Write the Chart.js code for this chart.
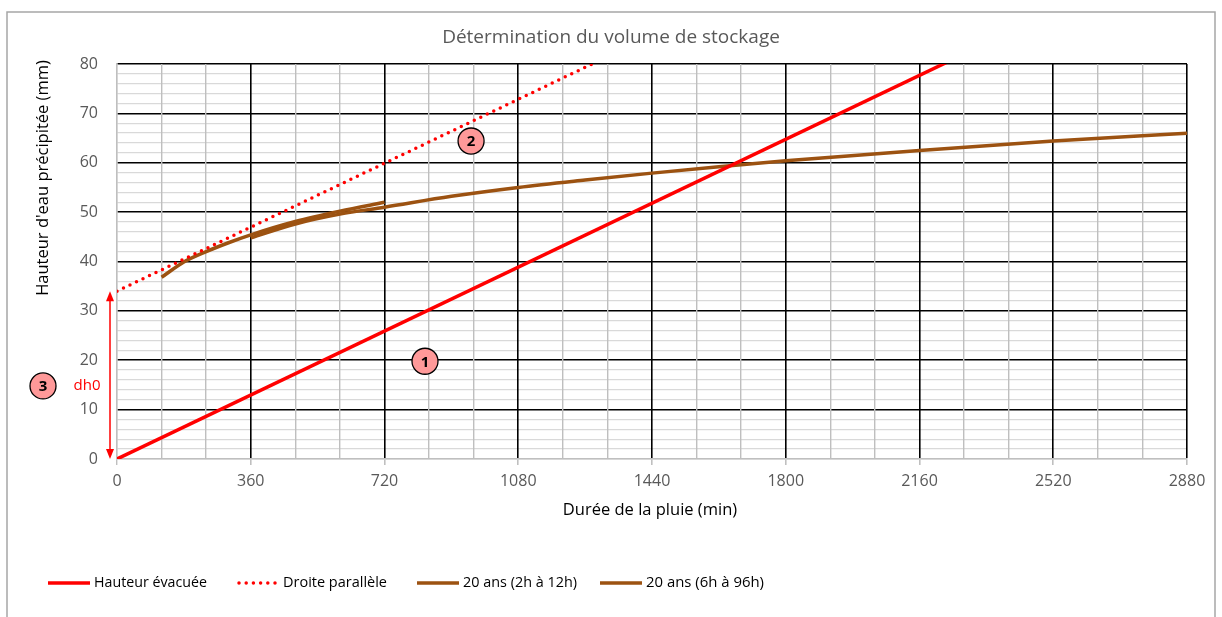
<!DOCTYPE html>
<html>
<head>
<meta charset="utf-8">
<script src="https://cdn.jsdelivr.net/npm/chart.js@4.4.1/dist/chart.umd.min.js"></script>
<style>
  body { margin: 0; background: #fff; }
  #wrap { width: 1222px; height: 617px; }
</style>
</head>
<body>
<div id="wrap"><canvas id="stockageChart" width="1222" height="617"></canvas></div>
<script>
// valeurs
var evacX = [0, 2880];
var evacY = [0, 103.6];
var paraX = [0, 2880];
var paraY = [34, 137.6];
var court1X = [120, 180, 240, 300, 360, 480, 600, 720];
var court1Y = [36.8, 39.9, 42.0, 43.8, 45.4, 48.1, 50.2, 52.0];
var long2X = [360, 480, 600, 720, 900, 1080, 1260, 1440, 1620, 1800, 2160, 2520, 2880];
var long2Y = [44.8, 47.6, 49.6, 51.0, 53.2, 55.0, 56.5, 57.9, 59.2, 60.4, 62.5, 64.4, 66.0];
var dh0 = 34;
var seriesNames = ['Hauteur évacuée', 'Droite parallèle', '20 ans (2h à 12h)', '20 ans (6h à 96h)'];
var xMajorStep = 360;
var yMajorStep = 10;

function toPoints(xs, ys) {
    return xs.map(function (x, i) { return { x: x, y: ys[i] }; });
}

var FONT = '"Open Sans", "Noto Sans", sans-serif';
var RED = '#FF0000';
var BROWN = '#9C5211';

var decorPlugin = {
    id: 'decor',
    afterDraw: function (chart) {
        var ctx = chart.ctx;
        var xs = chart.scales.x, ys = chart.scales.y;
        var area = chart.chartArea;
        ctx.save();

        // cadre
        ctx.strokeStyle = '#A6A6A6';
        ctx.lineWidth = 1.5;
        ctx.strokeRect(7, 12, 1208, 700);

        // titre
        ctx.fillStyle = '#595959';
        ctx.font = '19px ' + FONT;
        ctx.textAlign = 'center';
        ctx.textBaseline = 'middle';
        ctx.fillText('Détermination du volume de stockage', 611, 38);

        // titres des axes
        ctx.fillStyle = '#000';
        ctx.font = '16.5px ' + FONT;
        ctx.fillText('Durée de la pluie (min)', 650, 510);
        ctx.save();
        ctx.translate(43, 178);
        ctx.rotate(-Math.PI / 2);
        ctx.fillText("Hauteur d'eau précipitée (mm)", 0, 0);
        ctx.restore();

        // légende
        var legX = [48, 237, 417, 600];
        var legW = [113, 104, 114, 118];
        var ly = 583;
        chart.data.datasets.forEach(function (ds, i) {
            var x0 = legX[i];
            ctx.save();
            ctx.strokeStyle = ds.borderColor;
            ctx.lineWidth = ds.borderWidth;
            ctx.lineCap = ds.borderCapStyle || 'butt';
            ctx.setLineDash(ds.borderDash || []);
            ctx.beginPath();
            ctx.moveTo(x0 + (i === 1 ? 2 : 0), ly);
            ctx.lineTo(x0 + 42, ly);
            ctx.stroke();
            ctx.restore();
            ctx.fillStyle = '#000';
            ctx.font = '15px ' + FONT;
            ctx.textAlign = 'left';
            ctx.fillText(seriesNames[i], x0 + 46, ly, legW[i]);
        });

        // flèche dh0
        var ax = area.left - 7;
        var yTop = ys.getPixelForValue(dh0);
        var yBot = ys.getPixelForValue(0);
        ctx.strokeStyle = RED;
        ctx.fillStyle = RED;
        ctx.lineWidth = 1.5;
        ctx.beginPath();
        ctx.moveTo(ax, yTop + 8);
        ctx.lineTo(ax, yBot - 8);
        ctx.stroke();
        ctx.beginPath();
        ctx.moveTo(ax, yTop); ctx.lineTo(ax - 4, yTop + 10); ctx.lineTo(ax + 4, yTop + 10);
        ctx.closePath(); ctx.fill();
        ctx.beginPath();
        ctx.moveTo(ax, yBot); ctx.lineTo(ax - 4, yBot - 10); ctx.lineTo(ax + 4, yBot - 10);
        ctx.closePath(); ctx.fill();

        ctx.font = '15px ' + FONT;
        ctx.textAlign = 'center';
        ctx.fillText('dh0', 87, ys.getPixelForValue(14.8));

        // pastilles numérotées
        function badge(px, py, label) {
            ctx.beginPath();
            ctx.arc(px, py, 13, 0, Math.PI * 2);
            ctx.fillStyle = '#FF9999';
            ctx.fill();
            ctx.lineWidth = 1.3;
            ctx.strokeStyle = '#000';
            ctx.stroke();
            ctx.fillStyle = '#000';
            ctx.font = 'bold 15px ' + FONT;
            ctx.textAlign = 'center';
            ctx.fillText(label, px, py + 1);
        }
        badge(xs.getPixelForValue(829), ys.getPixelForValue(19.8), '1');
        badge(xs.getPixelForValue(953), ys.getPixelForValue(64.4), '2');
        badge(43, ys.getPixelForValue(14.8), '3');

        ctx.restore();
    }
};

var ctx = document.getElementById('stockageChart').getContext('2d');
var stockageChart = new Chart(ctx, {
    type: 'line',
    data: {
        datasets: [{
            label: seriesNames[0],
            data: toPoints(evacX, evacY),
            borderColor: RED,
            borderWidth: 3.5,
            pointRadius: 0
        }, {
            label: seriesNames[1],
            data: toPoints(paraX, paraY),
            borderColor: RED,
            borderWidth: 3.5,
            borderDash: [0, 7.2],
            borderCapStyle: 'round',
            pointRadius: 0
        }, {
            label: seriesNames[2],
            data: toPoints(court1X, court1Y),
            borderColor: BROWN,
            borderWidth: 3.5,
            cubicInterpolationMode: 'monotone',
            pointRadius: 0
        }, {
            label: seriesNames[3],
            data: toPoints(long2X, long2Y),
            borderColor: BROWN,
            borderWidth: 3.5,
            cubicInterpolationMode: 'monotone',
            pointRadius: 0
        }]
    },
    options: {
        responsive: false,
        animation: false,
        layout: {
            padding: { top: 64, right: 35, left: 0, bottom: 0 }
        },
        scales: {
            x: {
                type: 'linear',
                min: 0,
                max: 2880,
                afterFit: function (scale) { scale.height = 158; },
                ticks: {
                    stepSize: 120,
                    autoSkip: false,
                    maxRotation: 0,
                    padding: 7,
                    color: '#595959',
                    font: { family: FONT, size: 16 },
                    callback: function (v) { return v % xMajorStep === 0 ? v : ''; }
                },
                grid: {
                    z: -1,
                    color: function (c) {
                        var v = c.tick.value;
                        if (v === 0) return '#BFBFBF';
                        return v % xMajorStep === 0 ? '#000' : '#BFBFBF';
                    },
                    lineWidth: function (c) {
                        var v = c.tick.value;
                        return (v % xMajorStep === 0 && v !== 0) ? 1.6 : 1.4;
                    },
                    tickColor: function (c) {
                        return c.tick.value % xMajorStep === 0 ? '#BFBFBF' : 'rgba(0,0,0,0)';
                    },
                    tickLength: 6
                },
                border: { color: '#BFBFBF', width: 1.4 }
            },
            y: {
                min: 0,
                max: 80,
                afterFit: function (scale) { scale.width = 117; },
                ticks: {
                    stepSize: 2,
                    autoSkip: false,
                    padding: 19,
                    color: '#595959',
                    font: { family: FONT, size: 16 },
                    callback: function (v) { return v % yMajorStep === 0 ? v : ''; }
                },
                grid: {
                    z: -2,
                    drawTicks: false,
                    color: function (c) {
                        var v = c.tick.value;
                        if (v === 0) return '#BFBFBF';
                        return v % yMajorStep === 0 ? '#000' : '#D9D9D9';
                    },
                    lineWidth: function (c) {
                        var v = c.tick.value;
                        return (v % yMajorStep === 0 && v !== 0) ? 1.6 : 1.3;
                    }
                },
                border: { color: '#BFBFBF', width: 1.4 }
            }
        },
        plugins: {
            legend: { display: false },
            title: { display: false },
            tooltip: { enabled: false }
        }
    },
    plugins: [decorPlugin]
});
</script>
</body>
</html>
